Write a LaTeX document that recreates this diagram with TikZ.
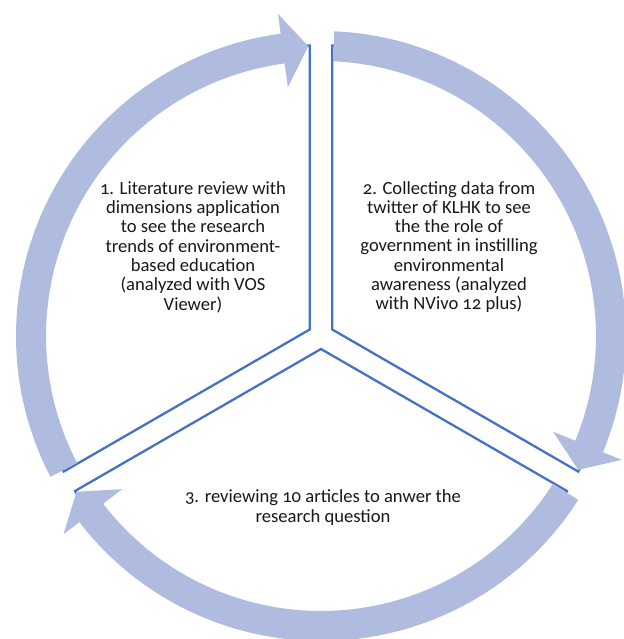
\documentclass[tikz,border=0pt]{standalone}
\usepackage{fontspec}
\setmainfont{Carlito}[Numbers=OldStyle]
\definecolor{arrowfill}{RGB}{175,188,223}
\definecolor{pieline}{RGB}{68,114,196}
\definecolor{txt}{RGB}{25,25,25}
\tikzset{
  arr/.style={fill=arrowfill},
  pie/.style={draw=pieline, fill=white, line width=2.3pt, line join=miter},
  lbl/.style={align=center, text=txt, font=\fontsize{18.6}{19.3}\selectfont, inner sep=0pt}
}
\begin{document}
\begin{tikzpicture}
\useasboundingbox (-321pt,-303pt) rectangle (302pt,336pt);
\coordinate (c) at (0,0);
\coordinate (v1) at (150:13pt);
\coordinate (v2) at (30:13pt);
\coordinate (v3) at (-90:13pt);
% pie segments
\filldraw[pie] (v1) -- ++(90:284pt) arc[start angle=90, end angle=210, radius=284pt] -- cycle;
\filldraw[pie] (v2) -- ++(90:284pt) arc[start angle=90, end angle=-30, radius=284pt] -- cycle;
\filldraw[pie] (v3) -- ++(-30:284pt) arc[start angle=-30, end angle=-150, radius=284pt] -- cycle;
% circular arrows
\fill[arr] (207.5:305pt) arc[start angle=207.5, end angle=97.6, radius=305pt]
  -- (97.6:325pt) -- (92.5:290pt) -- (97.6:251pt) -- (97.6:275pt)
  arc[start angle=97.6, end angle=207.5, radius=275pt] -- cycle;
\fill[arr] (87.5:305pt) arc[start angle=87.5, end angle=-22.4, radius=305pt]
  -- (-22.4:325pt) -- (-27.5:290pt) -- (-22.4:251pt) -- (-22.4:275pt)
  arc[start angle=-22.4, end angle=87.5, radius=275pt] -- cycle;
\fill[arr] (-32.5:305pt) arc[start angle=-32.5, end angle=-142.4, radius=305pt]
  -- (-142.4:325pt) -- (-147.5:290pt) -- (-142.4:251pt) -- (-142.4:275pt)
  arc[start angle=-142.4, end angle=-32.5, radius=275pt] -- cycle;
% labels
\node[lbl] (t1) at (-128pt,89pt) {1. Literature review with\\dimensions application\\to see the research\\trends of environment-\\based education\\(analyzed with VOS\\Viewer)};
\node[lbl] (t2) at (128pt,89pt) {2. Collecting data from\\twitter of KLHK to see\\the the role of\\government in instilling\\environmental\\awareness (analyzed\\with NVivo 12 plus)};
\node[lbl] (t3) at (2pt,-171.5pt) {3. reviewing 10 articles to anwer the\\research question};
\end{tikzpicture}
\end{document}
